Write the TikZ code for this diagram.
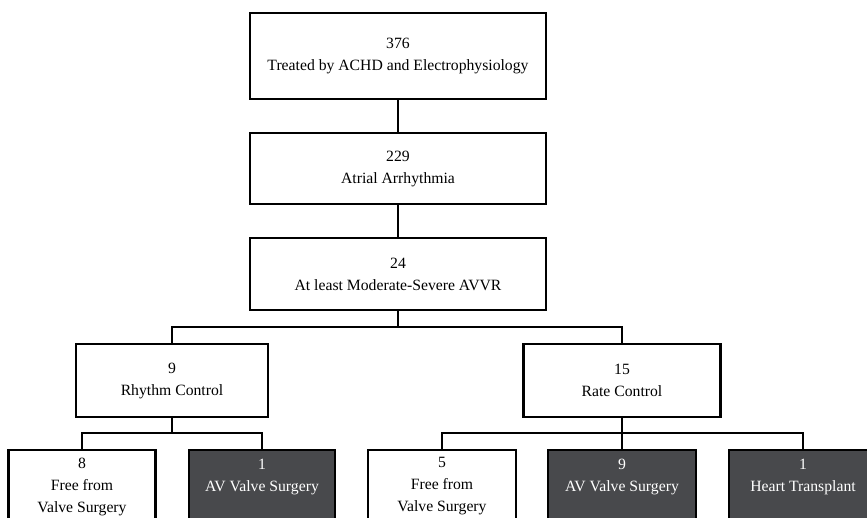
\documentclass[tikz,border=0pt]{standalone}
\usepackage{fontspec}
\setmainfont{Liberation Serif}
\definecolor{darkbox}{RGB}{72,73,76}
\begin{document}
\begin{tikzpicture}[x=1pt,y=-1pt,
  box/.style={draw=black, line width=2.3pt, fill=white, align=center, inner sep=0pt,
    font=\fontsize{15.7}{22}\selectfont},
  dark/.style={box, fill=darkbox, text=white},
  link/.style={line width=2.3pt}]
\useasboundingbox (0,0) rectangle (867,518);
\clip (0,0) rectangle (867,518);
\node[box, minimum width=296, minimum height=86] (a) at (398,56) {376\\Treated by ACHD and Electrophysiology};
\node[box, minimum width=296, minimum height=71] (b) at (398,168.5) {229\\Atrial Arrhythmia};
\node[box, minimum width=296, minimum height=72] (c) at (398,274) {24\\At least Moderate-Severe AVVR};
\node[box, minimum width=192, minimum height=73] (rhy) at (172,380.5) {9\\Rhythm Control};
\node[box, minimum width=197, minimum height=73] (rate) at (622,380.5) {15\\Rate Control};
\node[box, minimum width=147, minimum height=73] (fl) at (82,486.5) {8\\Free from\\Valve Surgery};
\node[dark, minimum width=146, minimum height=73] (avl) at (262,486.5) {1\\AV Valve Surgery\\ };
\node[box, minimum width=148, minimum height=73] (fr) at (442,486.5) {5\\Free from\\Valve Surgery};
\node[dark, minimum width=148, minimum height=73] (avr) at (622,486.5) {9\\AV Valve Surgery\\ };
\node[dark, minimum width=148, minimum height=73] (ht) at (803,486.5) {1\\Heart Transplant\\ };
\coordinate (j1) at (398,327);
\coordinate (j2) at (172,433);
\coordinate (j3) at (622,433);
\draw[link] (a.south) -- (b.north);
\draw[link] (b.south) -- (c.north);
\draw[link] (c.south) -- (j1);
\draw[link] (rhy.north) |- (j1) -| (rate.north);
\draw[link] (rhy.south) -- (j2);
\draw[link] (fl.north) |- (j2) -| (avl.north);
\draw[link] (rate.south) -- (avr.north);
\draw[link] (fr.north) |- (j3) -| (ht.north);
\end{tikzpicture}
\end{document}
